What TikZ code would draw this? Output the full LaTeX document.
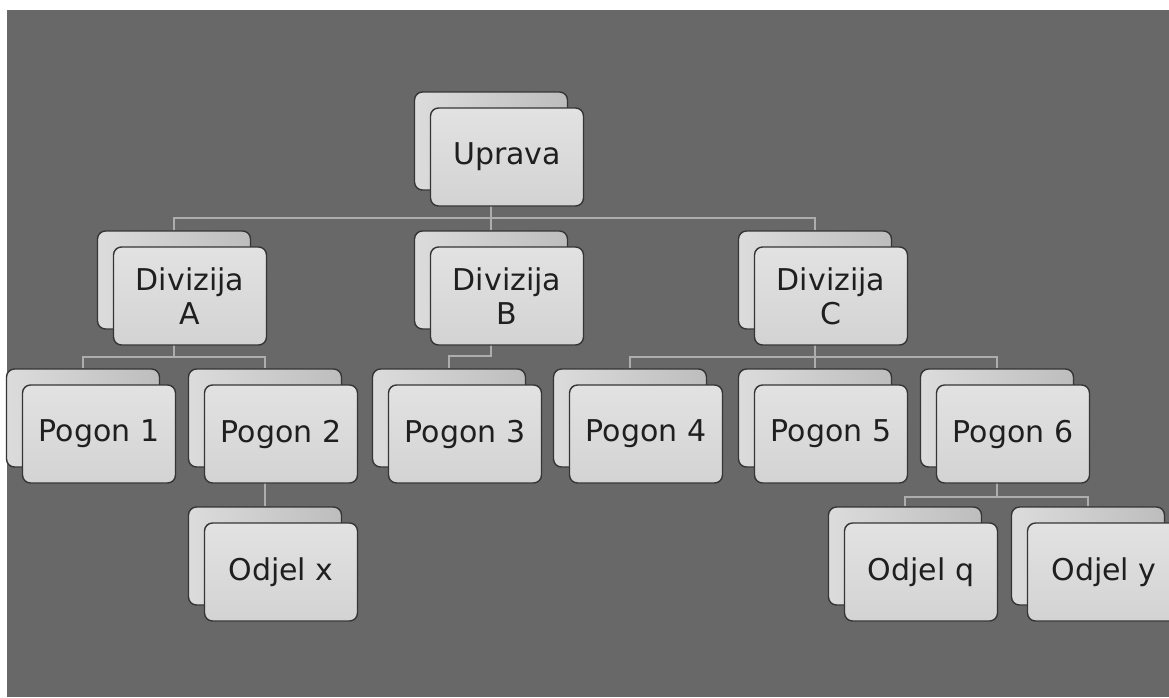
\documentclass[tikz,border=0pt]{standalone}
\usepackage{fontspec}
\setmainfont{DejaVu Sans}
\usetikzlibrary{backgrounds}
\definecolor{slide}{HTML}{686868}
\definecolor{boxtop}{HTML}{E2E2E2}
\definecolor{boxbot}{HTML}{D3D3D3}
\definecolor{backlight}{HTML}{DCDCDC}
\definecolor{backdark}{HTML}{BDBDBD}
\definecolor{rim}{HTML}{353535}
\definecolor{wiregray}{HTML}{ADADAD}

\begin{document}
\begin{tikzpicture}[x=1pt,y=1pt,
  font=\fontsize{30}{34}\selectfont,
  card/.style={draw=rim, line width=1.4pt, rounded corners=8pt, minimum width=153pt, minimum height=98pt, inner sep=0pt},
  frontcard/.style={card, top color=boxtop, bottom color=boxbot, text=black!88, align=center},
  backcard/.style={card, left color=backlight, right color=backdark},
  wire/.style={draw=wiregray, line width=1.6pt}]

\useasboundingbox (0,0) rectangle (1169,-697);
\begin{scope}[on background layer]
\fill[white] (0,0) rectangle (1169,-697);
\fill[slide] (7,-10) rectangle (1169,-697);
\end{scope}

% cards: name / x / y (from top) / text
\foreach \n/\x/\y/\t in {up/507/157/Uprava,
  diva/190/296/{Divizija\\A}, divb/507/296/{Divizija\\B}, divc/831/296/{Divizija\\C},
  pog1/99/434/Pogon 1, pog2/281/434/Pogon 2, pog3/465/434/Pogon 3,
  pog4/646/434/Pogon 4, pog5/831/434/Pogon 5, pog6/1013/434/Pogon 6,
  odx/281/572/Odjel x, odq/921/572/Odjel q, ody/1104/572/Odjel y} {
  \node[backcard] (\n-b) at (\x-16,16-\y) {};
  \node[frontcard] (\n) at (\x,-\y) {\t};
}

\begin{scope}[on background layer]
\draw[wire] (up-b.south) -- ++(0,-27) coordinate (j1);
\draw[wire] (diva-b.north) |- (j1) -| (divc-b.north);
\draw[wire] (j1) -- (divb-b.north);
\draw[wire] (diva-b.south) -- ++(0,-27) coordinate (j2);
\draw[wire] (pog1-b.north) |- (j2) -| (pog2-b.north);
\draw[wire] (divb-b.south) -- ++(0,-26) -| (pog3-b.north);
\draw[wire] (divc-b.south) -- ++(0,-27) coordinate (j3);
\draw[wire] (pog4-b.north) |- (j3) -| (pog6-b.north);
\draw[wire] (j3) -- (pog5-b.north);
\draw[wire] (pog2-b.south) -- (odx-b.north);
\draw[wire] (pog6-b.south) -- ++(0,-29) coordinate (j4);
\draw[wire] (odq-b.north) |- (j4) -| (ody-b.north);
\end{scope}
%
\end{tikzpicture}
\end{document}
